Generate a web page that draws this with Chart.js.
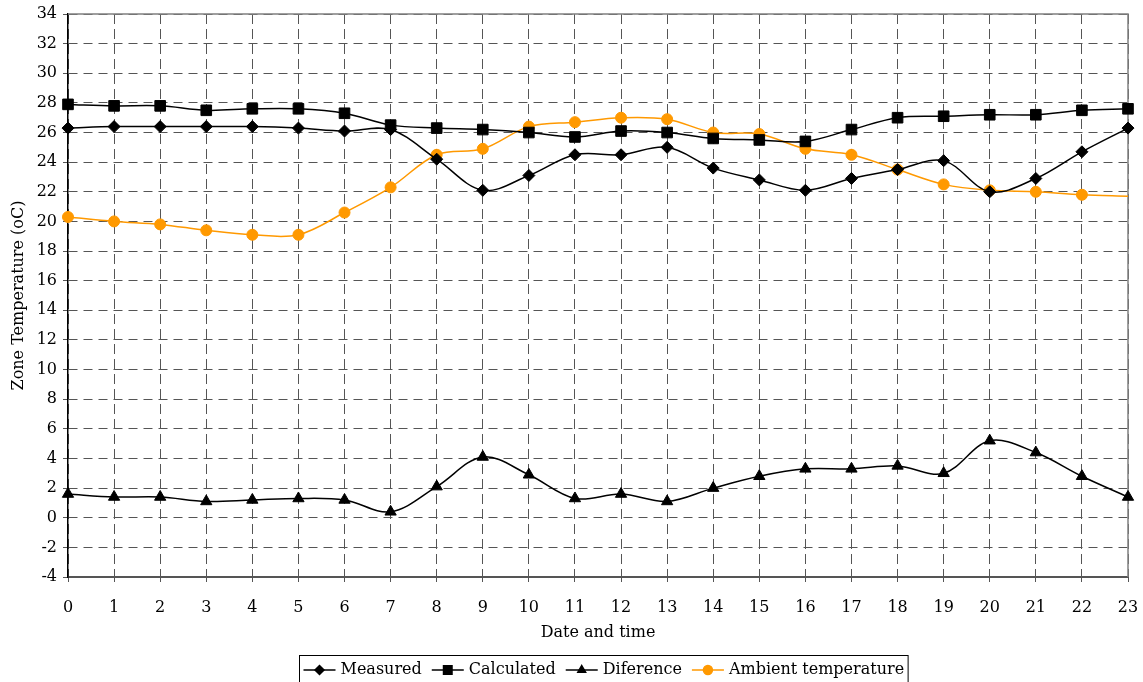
<!DOCTYPE html>
<html>
<head>
<meta charset="utf-8">
<script src="https://cdn.jsdelivr.net/npm/chart.js@4/dist/chart.umd.min.js"></script>
<style>
  html, body { margin: 0; padding: 0; background: #fff; }
  #wrap { width: 1143px; height: 682px; position: relative; }
</style>
</head>
<body>
<div id="wrap"><canvas id="chart"></canvas></div>
<script>
const hours = ["0","1","2","3","4","5","6","7","8","9","10","11","12","13","14","15","16","17","18","19","20","21","22","23"];

const measured = [26.3, 26.4, 26.4, 26.4, 26.4, 26.3, 26.1, 26.2, 24.2, 22.1, 23.1, 24.5, 24.5, 25.0, 23.6, 22.8, 22.1, 22.9, 23.5, 24.1, 22.0, 22.9, 24.7, 26.3];
const calculated = [27.9, 27.8, 27.8, 27.5, 27.6, 27.6, 27.3, 26.5, 26.3, 26.2, 26.0, 25.7, 26.1, 26.0, 25.6, 25.5, 25.4, 26.2, 27.0, 27.1, 27.2, 27.2, 27.5, 27.6];
const difference = [1.6, 1.4, 1.4, 1.1, 1.2, 1.3, 1.2, 0.4, 2.1, 4.1, 2.9, 1.3, 1.6, 1.1, 2.0, 2.8, 3.3, 3.3, 3.5, 3.0, 5.2, 4.4, 2.8, 1.4];
const ambient = [20.3, 20.0, 19.8, 19.4, 19.1, 19.1, 20.6, 22.3, 24.5, 24.9, 26.4, 26.7, 27.0, 26.9, 26.0, 25.9, 24.9, 24.5, 23.5, 22.5, 22.1, 22.0, 21.8, 21.7];

const FONT = '"DejaVu Serif", "Liberation Serif", serif';
const ORANGE = "#ff9900";

// marker hidden on the last ambient point, as in the original
const ambientRadius = ambient.map((v, i) => i === ambient.length - 1 ? 0 : 5.5);

function series(label, data, color, style, radius) {
  return {
    label: label,
    data: data,
    borderColor: color,
    backgroundColor: color,
    pointBackgroundColor: color,
    pointBorderColor: color,
    borderWidth: 1.5,
    pointStyle: style,
    pointRadius: radius,
    pointBorderWidth: 1,
    tension: 0.35,
    fill: false
  };
}

const frameAndLegend = {
  id: "frameAndLegend",
  beforeDatasetsDraw(chart) {
    const ctx = chart.ctx;
    const a = chart.chartArea;
    ctx.save();
    // top and right edges of plot area
    ctx.strokeStyle = "#808080";
    ctx.lineWidth = 1.5;
    ctx.beginPath();
    ctx.moveTo(a.left, a.top);
    ctx.lineTo(a.right, a.top);
    ctx.lineTo(a.right, a.bottom);
    ctx.stroke();
    ctx.restore();
  },
  afterDraw(chart) {
    const ctx = chart.ctx;
    ctx.save();
    // boxed legend with line + marker samples
    ctx.font = "16px " + FONT;
    const items = chart.data.datasets.map(ds => ({
      label: ds.label, color: ds.borderColor, style: ds.pointStyle,
      w: ctx.measureText(ds.label).width
    }));
    const sample = 32, gapText = 5, gapItem = 10, padX = 4;
    let total = padX * 2;
    items.forEach((it, i) => { total += sample + gapText + it.w + (i ? gapItem : 0); });
    let x = Math.round(603 - total / 2) + 0.5;
    const top = 655.5, cy = 670;
    ctx.strokeStyle = "#000";
    ctx.lineWidth = 1;
    ctx.strokeRect(x, top, total, 40);
    x += padX;
    items.forEach((it, i) => {
      if (i) x += gapItem;
      ctx.strokeStyle = it.color;
      ctx.fillStyle = it.color;
      ctx.lineWidth = 1.5;
      ctx.beginPath();
      ctx.moveTo(x, cy);
      ctx.lineTo(x + sample, cy);
      ctx.stroke();
      const r = it.style === "rect" ? 6 : 4.5;
      Chart.helpers.drawPoint(ctx, { pointStyle: it.style, radius: r, rotation: 0, borderWidth: 1 }, x + sample / 2, cy);
      x += sample + gapText;
      ctx.fillStyle = "#000";
      ctx.textAlign = "left";
      ctx.textBaseline = "middle";
      ctx.fillText(it.label, x, cy);
      x += it.w;
    });
    ctx.restore();
  }
};

new Chart(document.getElementById("chart"), {
  type: "line",
  data: {
    labels: hours,
    datasets: [
      series("Measured", measured, "#000", "rectRot", 6),
      series("Calculated", calculated, "#000", "rect", 7.5),
      series("Diference", difference, "#000", "triangle", 6.5),
      series("Ambient temperature", ambient, ORANGE, "circle", ambientRadius)
    ]
  },
  options: {
    responsive: true,
    maintainAspectRatio: false,
    animation: false,
    layout: { padding: { left: 0, right: 15, top: 14, bottom: 40 } },
    plugins: {
      legend: { display: false },
      tooltip: { enabled: false }
    },
    scales: {
      x: {
        offset: false,
        afterFit(scale) {
          scale.height = 65;
          scale.paddingLeft = 0;
          scale.paddingRight = 0;
        },
        grid: {
          color: "#555",
          lineWidth: 1,
          tickLength: 5,
          tickColor: "#555"
        },
        border: { display: true, color: "#555", width: 2, dash: [10, 5] },
        ticks: { color: "#000", font: { family: FONT, size: 16 }, padding: 16, maxRotation: 0, autoSkip: false },
        title: { display: true, text: "Date and time", color: "#000", font: { family: FONT, size: 16 }, padding: { top: 4, bottom: 0 } }
      },
      y: {
        min: -4,
        max: 34,
        afterFit(scale) {
          scale.width = 68;
          scale.paddingTop = 0;
          scale.paddingBottom = 0;
        },
        grid: {
          color: "#555",
          lineWidth: 1,
          tickLength: 5,
          tickColor: "#555"
        },
        border: { display: true, color: "#000", width: 1.5, dash: [9, 6] },
        ticks: { stepSize: 2, color: "#000", font: { family: FONT, size: 16 }, padding: 6 },
        title: { display: true, text: "Zone Temperature (oC)", color: "#000", font: { family: FONT, size: 16 }, padding: { top: 9, bottom: 0 } }
      }
    }
  },
  plugins: [frameAndLegend]
});
</script>
</body>
</html>
